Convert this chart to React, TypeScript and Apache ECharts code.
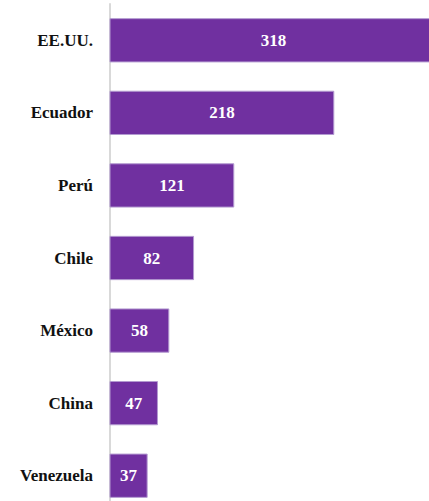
import React, { useEffect, useRef } from "react";
import * as echarts from "echarts";

const categories = ["EE.UU.", "Ecuador", "Perú", "Chile", "México", "China", "Venezuela"];
const values = [318, 218, 121, 82, 58, 47, 37];

export default function App() {
  const ref = useRef<HTMLDivElement>(null);
  useEffect(() => {
    if (!ref.current) return;
    const chart = echarts.init(ref.current, null, { renderer: "svg" });
    chart.setOption({
      animation: false,
      grid: { left: 109.5, top: 4, bottom: 0, width: 360.9 },
      xAxis: {
        type: "value",
        min: 0,
        max: 350,
        show: false,
        splitLine: { show: false },
      },
      yAxis: {
        type: "category",
        data: categories,
        inverse: true,
        offset: 1.5,
        axisLine: { show: true, lineStyle: { color: "#d9d9d9", width: 2 } },
        axisTick: { show: false },
        axisLabel: {
          margin: 15,
          color: "#111111",
          fontFamily: "Liberation Serif",
          fontWeight: "bold",
          fontSize: 17,
        },
      },
      series: [
        {
          type: "bar",
          data: values,
          barWidth: "61%",
          itemStyle: { color: "#7030A0", borderColor: "#b39ad0", borderWidth: 1 },
          label: {
            show: true,
            position: "inside",
            color: "#ffffff",
            fontFamily: "Liberation Serif",
            fontWeight: "bold",
            fontSize: 17,
          },
        },
      ],
    });
    return () => chart.dispose();
  }, []);
  return (
    <div
      style={{
        position: "fixed",
        left: 0,
        top: 0,
        width: 429,
        height: 501,
        overflow: "hidden",
        background: "#ffffff",
      }}
    >
      <div ref={ref} style={{ width: 480, height: 512 }} />
    </div>
  );
}
